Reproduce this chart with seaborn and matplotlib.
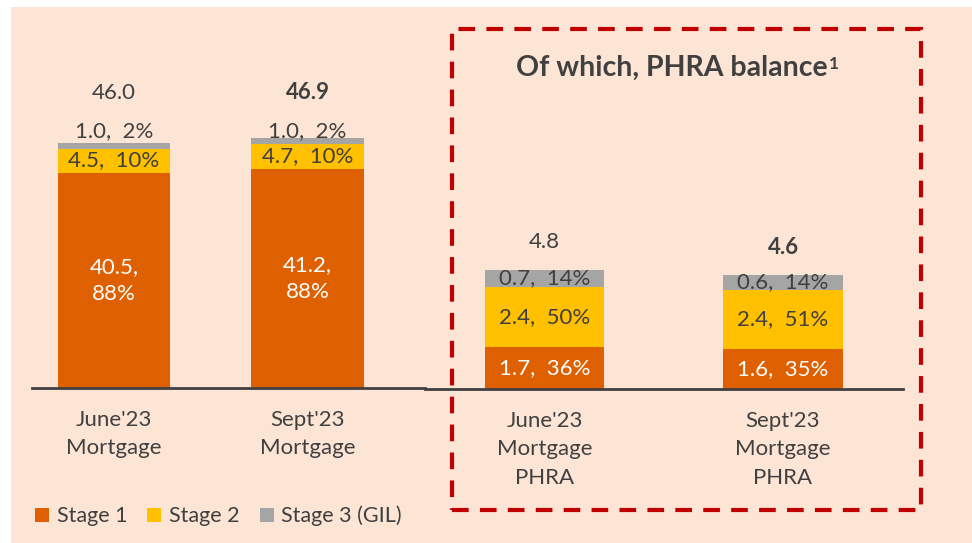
import matplotlib
matplotlib.use("Agg")
import matplotlib.pyplot as plt
from matplotlib.patches import Rectangle, Patch
import seaborn as sns
import pandas as pd

sns.set_theme(style="white")
plt.rcParams['font.family'] = ['Lato', 'DejaVu Sans']

# ---- data ----
mort_cats = ["June'23\nMortgage", "Sept'23\nMortgage"]
mort_s1 = [40.5, 41.2]
mort_s2 = [4.5, 4.7]
mort_s3 = [1.0, 1.0]
mort_tot = [46.0, 46.9]
mort_p1 = [88, 88]
mort_p2 = [10, 10]
mort_p3 = [2, 2]

phra_cats = ["June'23\nMortgage\nPHRA", "Sept'23\nMortgage\nPHRA"]
phra_s1 = [1.7, 1.6]
phra_s2 = [2.4, 2.4]
phra_s3 = [0.7, 0.6]
phra_tot = [4.8, 4.6]
phra_p1 = [36, 35]
phra_p2 = [50, 51]
phra_p3 = [14, 14]

legend_labels = ["Stage 1", "Stage 2", "Stage 3 (GIL)"]
title = "Of which, PHRA balance"

C1, C2, C3 = "#DE6000", "#FFC000", "#A5A5A5"
BG = "#FDE5D5"
TXT = "#404040"
FS = 16

W, H = 972, 543
fig = plt.figure(figsize=(W / 100, H / 100), dpi=100, facecolor="white")
fig.patches.append(Rectangle((11 / W, 0), 1, 1 - 7 / H, transform=fig.transFigure,
                             facecolor=BG, edgecolor="none", zorder=-10))


def ax_rect(x0, x1, ytop, ybot):
    return [x0 / W, 1 - ybot / H, (x1 - x0) / W, (ybot - ytop) / H]


axL = fig.add_axes(ax_rect(32, 425, 30, 388))
axR = fig.add_axes(ax_rect(425, 903, 30, 389))


def draw(ax, cats, s1, s2, s3, width, xlim, ylim):
    df = pd.DataFrame({"cat": cats, "s1": s1, "s12": [a + b for a, b in zip(s1, s2)],
                       "s123": [a + b + c for a, b, c in zip(s1, s2, s3)]})
    for col, colr in [("s123", C3), ("s12", C2), ("s1", C1)]:
        sns.barplot(data=df, x="cat", y=col, color=colr, saturation=1, width=width,
                    linewidth=0, ax=ax)
    ax.set_xlim(*xlim)
    ax.set_ylim(*ylim)
    ax.set_facecolor("none")
    ax.set_xlabel("")
    ax.set_ylabel("")
    ax.set_yticks([])
    for s in ["top", "left", "right"]:
        ax.spines[s].set_visible(False)
    ax.spines["bottom"].set_color(TXT)
    ax.spines["bottom"].set_linewidth(2)
    ax.tick_params(axis="x", length=0, pad=15.5, labelsize=FS, labelcolor=TXT)
    for t in ax.get_xticklabels():
        t.set_linespacing(1.55)
    return df


draw(axL, mort_cats, mort_s1, mort_s2, mort_s3, 0.58, (-0.424, 1.607), (0, 358 / 5.32))
draw(axR, phra_cats, phra_s1, phra_s2, phra_s3, 0.5, (-0.501, 1.503), (0, 358 / 24.8))

# left labels
for i in range(2):
    s1, s2, s3 = mort_s1[i], mort_s2[i], mort_s3[i]
    axL.text(i, s1 / 2, f"{s1:.1f},\n{mort_p1[i]}%", ha="center", va="center",
             color="white", fontsize=FS, linespacing=1.45)
    axL.text(i, s1 + s2 / 2, f"{s2:.1f},  {mort_p2[i]}%", ha="center", va="center",
             color=TXT, fontsize=FS)
    axL.text(i, max(mort_tot) + 1.4, f"{s3:.1f},  {mort_p3[i]}%", ha="center", va="center",
             color=TXT, fontsize=FS)
    axL.text(i, max(mort_tot) + 8.6, f"{mort_tot[i]:.1f}", ha="center", va="center",
             color=TXT, fontsize=FS, fontweight="bold" if i == 1 else "normal")

# right labels
for i in range(2):
    s1, s2, s3 = phra_s1[i], phra_s2[i], phra_s3[i]
    axR.text(i, s1 / 2, f"{s1:.1f},  {phra_p1[i]}%", ha="center", va="center",
             color="white", fontsize=FS)
    axR.text(i, s1 + s2 / 2, f"{s2:.1f},  {phra_p2[i]}%", ha="center", va="center",
             color=TXT, fontsize=FS)
    axR.text(i, s1 + s2 + s3 / 2, f"{s3:.1f},  {phra_p3[i]}%", ha="center", va="center",
             color=TXT, fontsize=FS)
    axR.text(i, phra_tot[i] + 1.1, f"{phra_tot[i]:.1f}", ha="center", va="center",
             color=TXT, fontsize=FS, fontweight="bold" if i == 1 else "normal")

# dashed box
fig.patches.append(Rectangle((452 / W, 1 - 510 / H), (921 - 452) / W, (510 - 29) / H,
                             transform=fig.transFigure, fill=False, edgecolor="#C00000",
                             linewidth=3, linestyle=(0, (4, 2.7)), zorder=5))

# title with superscript
tt = fig.text(672 / W, 1 - 68 / H, title, ha="center", va="center", fontsize=20.5,
              fontweight="bold", color=TXT)
fig.canvas.draw()
bb = tt.get_window_extent()
fig.text((bb.x1 + 1) / W, (bb.y1 - 1) / H, "1", ha="left", va="top", fontsize=12.5,
         fontweight="bold", color=TXT)

# legend
handles = [Patch(facecolor=c, edgecolor="none") for c in (C1, C2, C3)]
leg = fig.legend(handles, legend_labels, loc="center left", bbox_to_anchor=(35 / W, 1 - 516 / H),
                 ncol=3, frameon=False, fontsize=15.5, handlelength=0.65, handleheight=0.65,
                 handletextpad=0.35, columnspacing=0.95, borderpad=0, borderaxespad=0)
for t in leg.get_texts():
    t.set_color(TXT)

fig.savefig("out.png", dpi=100, facecolor="white")
